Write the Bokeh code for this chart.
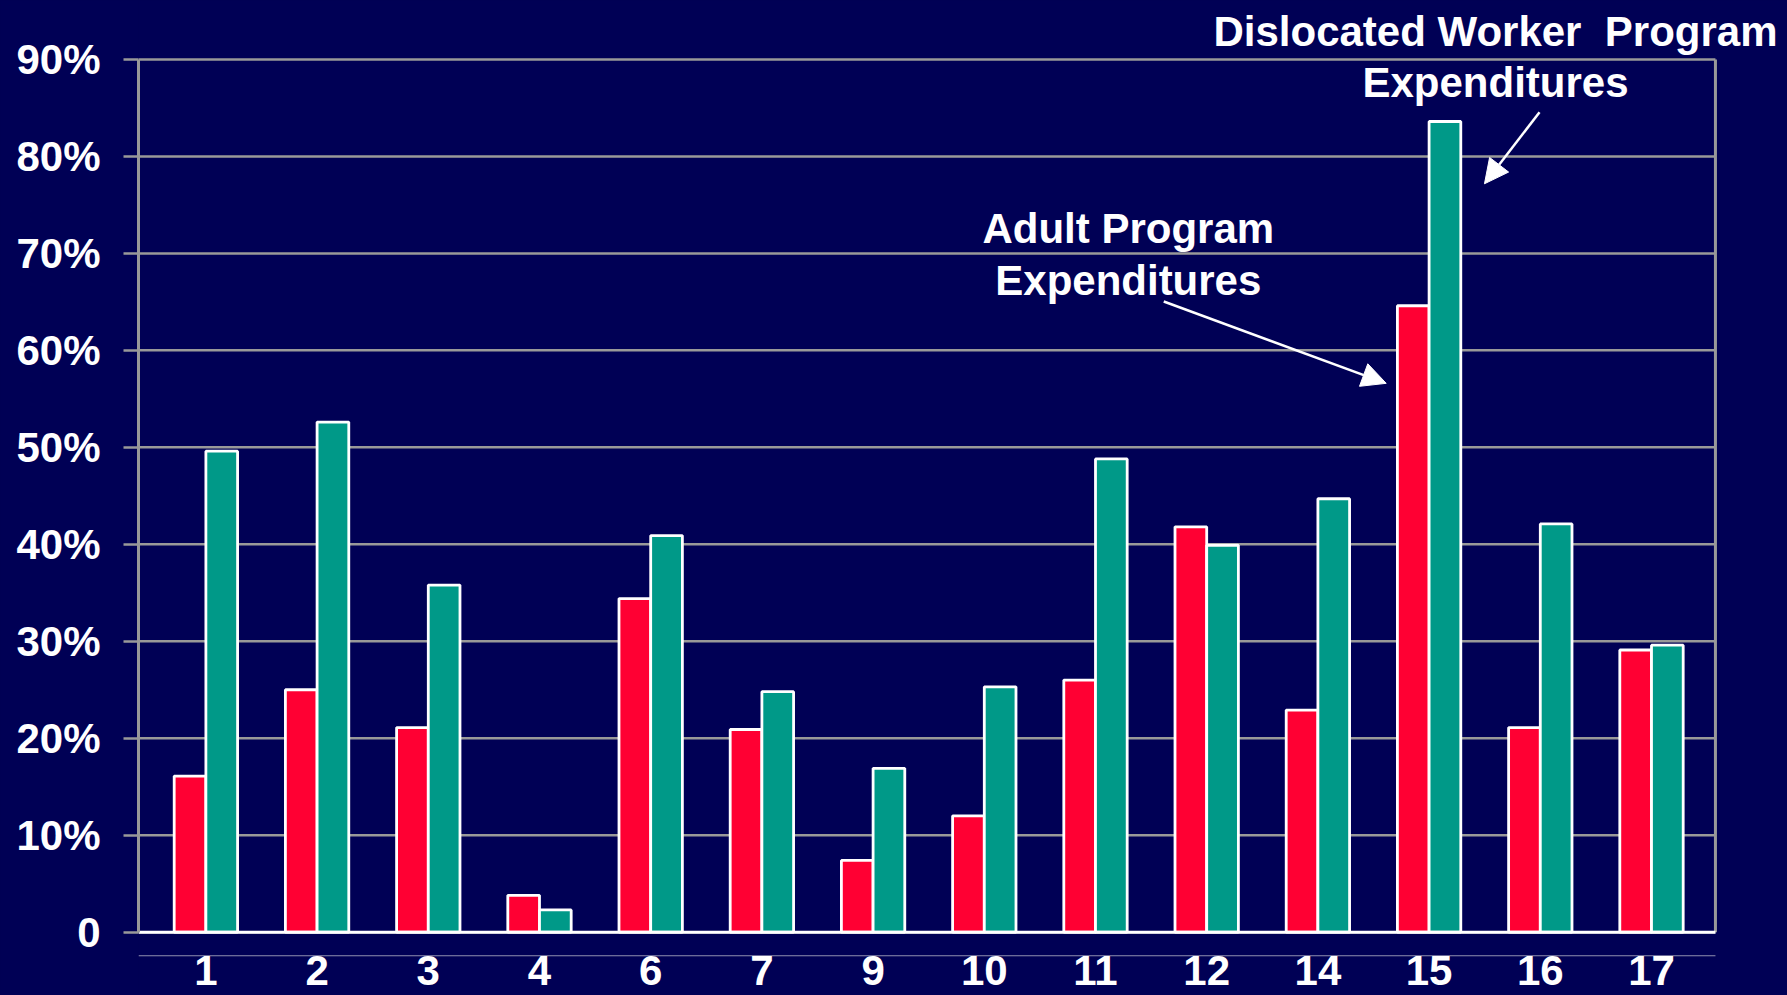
import numpy as np
from bokeh.plotting import figure
from bokeh.models import Range1d, FixedTicker, Label, Arrow, NormalHead
from bokeh.core.properties import value
from bokeh.embed import file_html
from bokeh.resources import INLINE

# ---- data ----
categories = ["1", "2", "3", "4", "6", "7", "9", "10", "11", "12", "14", "15", "16", "17"]
adult = [16.1, 25.0, 21.1, 3.8, 34.4, 20.9, 7.4, 12.0, 26.0, 41.8, 22.9, 64.6, 21.1, 29.1]
dislocated = [49.6, 52.6, 35.8, 2.3, 40.9, 24.8, 16.9, 25.3, 48.8, 39.9, 44.7, 83.6, 42.1, 29.6]
y_ticks = [0, 10, 20, 30, 40, 50, 60, 70, 80, 90]
y_tick_labels = ["0", "10%", "20%", "30%", "40%", "50%", "60%", "70%", "80%", "90%"]

BG = "#000055"
RED = "#FF0033"
GREEN = "#009988"
GRID = "#999999"
FONT = "Liberation Sans"

x = np.arange(len(categories))
X0 = -0.606      # left edge of plot area (category units)
XR = 13.575      # right border of plot area (category units)

p = figure(width=1787, height=995,
           x_range=Range1d(X0, 14.223), y_range=Range1d(-6.53, 96.08),
           output_backend="svg", toolbar_location=None, x_axis_location=None,
           min_border_left=138, min_border_right=0, min_border_top=0, min_border_bottom=0)
p.background_fill_color = BG
p.border_fill_color = BG
p.styles = {"background-color": BG}
p.outline_line_color = None
p.xgrid.visible = False
p.ygrid.visible = False
for g in p.grid:
    g.visible = False

# y axis
ticker = FixedTicker(ticks=y_ticks)
ax = p.yaxis[0]
ax.ticker = ticker
ax.bounds = (y_ticks[0], y_ticks[-1])
ax.major_label_overrides = dict(zip(y_ticks, y_tick_labels))
ax.axis_line_color = GRID
ax.axis_line_width = 3
ax.major_tick_line_color = GRID
ax.major_tick_line_width = 2.5
ax.major_tick_out = 15
ax.major_tick_in = 0
ax.minor_tick_line_color = None
ax.major_label_standoff = 23
ax.major_label_text_font = FONT
ax.major_label_text_font_style = "bold"
ax.major_label_text_font_size = "42px"
ax.major_label_text_color = "white"

# horizontal grid lines, limited to the plot area
p.segment(x0=X0, x1=XR, y0=y_ticks, y1=y_ticks, line_color=GRID, line_width=2.5)

# bars
bw = 0.285
p.vbar(x=x - bw / 2, top=adult, bottom=0, width=bw, fill_color=RED, line_color="white", line_width=2.8)
p.vbar(x=x + bw / 2, top=dislocated, bottom=0, width=bw, fill_color=GREEN, line_color="white", line_width=2.8)

# right border, baseline, category axis line
p.segment(x0=XR, y0=y_ticks[0], x1=XR, y1=y_ticks[-1], line_color=GRID, line_width=3)
p.segment(x0=X0, y0=0, x1=XR, y1=0, line_color="white", line_width=3)
p.segment(x0=X0, y0=-2.43, x1=XR, y1=-2.43, line_color="#8f8fb0", line_width=1.2)

# category labels
p.text(x=x, y=-3.95, text=categories, text_align="center", text_baseline="middle",
       text_font=value(FONT), text_font_style="bold", text_font_size="42px", text_color="white")

# annotations
def lab(xv, yv, t):
    p.add_layout(Label(x=xv, y=yv, text=t, text_align="center", text_baseline="middle",
                       text_font=FONT, text_font_style="bold", text_font_size="42px", text_color="white"))

lab(8.295, 72.59, "Adult Program")
lab(8.295, 67.24, "Expenditures")
lab(11.597, 92.85, "Dislocated Worker\u00a0 Program")
lab(11.597, 87.66, "Expenditures")

p.add_layout(Arrow(end=NormalHead(size=24, fill_color="white", line_color="white", line_width=1),
                   x_start=8.614, y_start=65.04, x_end=10.614, y_end=56.6,
                   line_color="white", line_width=2.5))
p.add_layout(Arrow(end=NormalHead(size=24, fill_color="white", line_color="white", line_width=1),
                   x_start=11.993, y_start=84.56, x_end=11.498, y_end=77.18,
                   line_color="white", line_width=2.5))

open("out.html", "w").write(file_html(p, INLINE))
